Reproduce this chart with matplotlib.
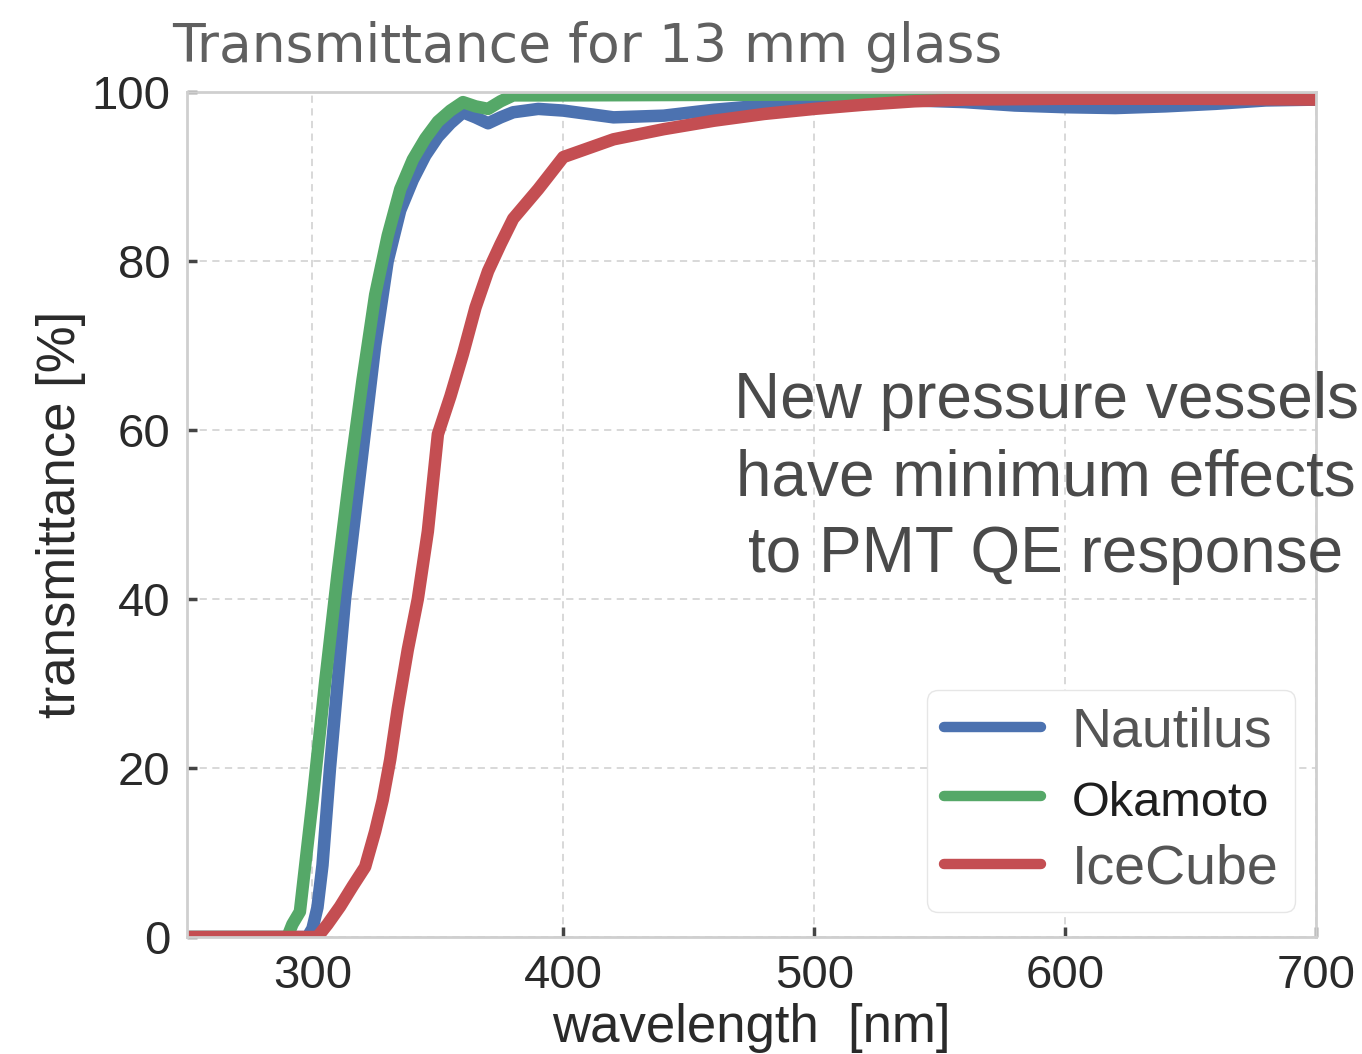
import matplotlib
matplotlib.use("Agg")
import matplotlib.pyplot as plt

# Wavelength grids [nm] and transmittance [%] for each glass
wl_nautilus = [250, 298, 300, 302, 304, 307, 310, 313, 317, 321, 325, 330, 335, 340,
               345, 350, 355, 360, 365, 370, 375, 380, 390, 400, 420, 440, 460, 480,
               500, 540, 560, 580, 600, 620, 640, 660, 680, 700]
tr_nautilus = [0, 0, 1, 3.5, 8.5, 20, 30, 40, 50, 60, 70, 80, 86, 89.6,
               92.5, 94.7, 96.3, 97.6, 97.0, 96.3, 97.0, 97.6, 98.0, 97.8, 97.0, 97.2, 97.9, 98.4,
               98.8, 99.0, 98.8, 98.4, 98.2, 98.1, 98.3, 98.6, 99.0, 99.1]

wl_okamoto = [250, 290, 292, 295, 300, 305, 310, 315, 320, 325, 330, 335, 340, 345,
              350, 355, 360, 365, 370, 375, 380, 400, 500, 600, 700]
tr_okamoto = [0, 0, 1.5, 3, 16, 30, 43, 55, 66, 76, 83, 88.5, 92, 94.5,
              96.5, 97.8, 98.8, 98.3, 98.0, 98.9, 99.6, 99.6, 99.7, 99.8, 99.8]

wl_icecube = [250, 302, 306, 311, 316, 321, 325, 328, 331, 334, 338, 342, 346, 350,
              355, 360, 365, 370, 375, 380, 390, 400, 420, 440, 460, 480, 500, 520,
              540, 560, 600, 650, 700]
tr_icecube = [0, 0, 1.5, 3.6, 6, 8.3, 12.5, 16.2, 21, 27, 34, 40, 48, 59.5,
              64, 69, 74.5, 78.8, 82, 85, 88.5, 92.3, 94.4, 95.6, 96.6, 97.4, 98, 98.5,
              98.9, 99.1, 99.2, 99.2, 99.1]

series_names = ["Nautilus", "Okamoto", "IceCube"]
x_ticks = [300, 400, 500, 600, 700]
y_ticks = [0, 20, 40, 60, 80, 100]
note_lines = ["New pressure vessels", "have minimum effects", "to PMT QE response"]

colors = ["#4C72B0", "#55A868", "#C44E52"]
W, H = 1362, 1054
fig = plt.figure(figsize=(W / 100, H / 100), dpi=100)
ax = fig.add_axes([187 / W, 1 - 937 / H, (1316 - 187) / W, (937 - 92) / H])

series = [(wl_nautilus, tr_nautilus), (wl_okamoto, tr_okamoto), (wl_icecube, tr_icecube)]
for (wl, tr), name, c in zip(series, series_names, colors):
    ax.plot(wl, tr, color=c, lw=9, label=name, solid_capstyle="butt", solid_joinstyle="round")

ax.set_xlim(250, 700)
ax.set_ylim(0, 100)
ax.set_xticks(x_ticks)
ax.set_yticks(y_ticks)

tick_font = dict(family="Liberation Sans", size=34)
ax.set_xticklabels([str(v) for v in x_ticks], fontdict=tick_font, color="#2a2a2a")
ax.set_yticklabels([str(v) for v in y_ticks], fontdict=tick_font, color="#2a2a2a")
ax.tick_params(axis="both", direction="in", length=7, width=2.5, color="#444444", pad=12)

ax.grid(True, color="#d6d6d6", linestyle=(0, (4, 3)), linewidth=1.3)
ax.set_axisbelow(True)
for s in ax.spines.values():
    s.set_color("#cfcfcf")
    s.set_linewidth(2)

ax.set_xlabel("wavelength  [nm]", family="Liberation Sans", size=38, color="#2a2a2a", labelpad=4)
ax.set_ylabel("transmittance [%]", family="Liberation Sans", size=38, color="#2a2a2a", labelpad=4)

fig.text(172 / W, 1 - 62 / H, "Transmittance for 13 mm glass", family="DejaVu Sans",
         size=38.5, color="#606060", ha="left", va="baseline")

for i, line in enumerate(note_lines):
    fig.text(1046 / W, 1 - (418 + 77 * i) / H, line, family="Liberation Sans", size=46,
             color="#4a4a4a", ha="center", va="baseline")

leg = ax.legend(loc="lower right", bbox_to_anchor=(1295 / W, 1 - 912 / H),
                bbox_transform=fig.transFigure, borderaxespad=0,
                prop=dict(family="Liberation Sans", size=40), handlelength=1.75,
                handletextpad=0.55, labelspacing=0.32, borderpad=0.3,
                frameon=True, fancybox=True, framealpha=1, edgecolor="#e6e6e6")
for t in leg.get_texts():
    t.set_color("#555555")
leg.get_texts()[1].set_fontsize(35)
leg.get_texts()[1].set_color("#1e1e1e")
for h in leg.legend_handles:
    h.set_linewidth(7.5)
    h.set_solid_capstyle("round")

fig.savefig("out.png", dpi=100, facecolor="white")
